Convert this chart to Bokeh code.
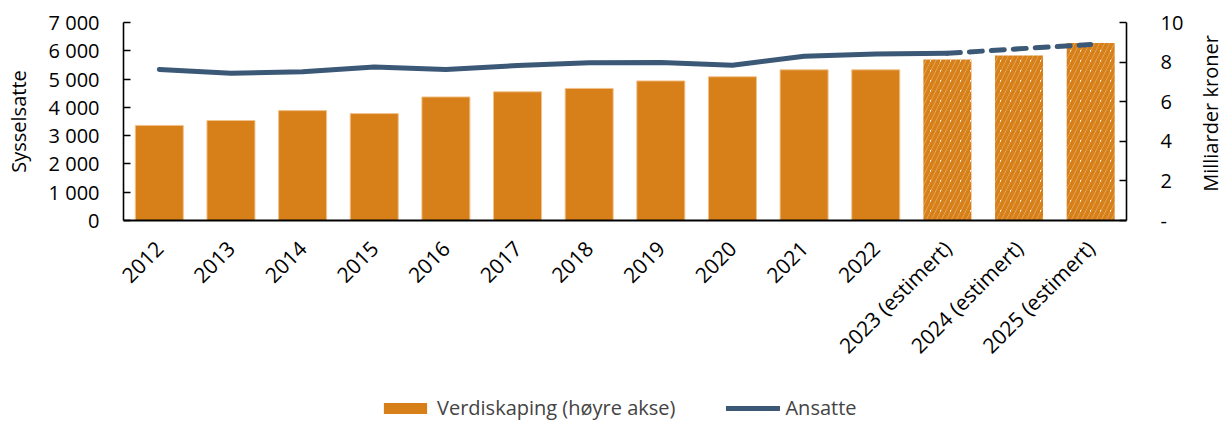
import math
from bokeh.plotting import figure
from bokeh.layouts import column, row
from bokeh.models import (FactorRange, Range1d, LinearAxis, FixedTicker, Legend, LegendItem, Label)
from bokeh.embed import file_html
from bokeh.resources import INLINE

years = ["2012", "2013", "2014", "2015", "2016", "2017", "2018", "2019", "2020",
         "2021", "2022", "2023 (estimert)", "2024 (estimert)", "2025 (estimert)"]
verdiskaping = [4.80, 5.05, 5.55, 5.40, 6.24, 6.50, 6.67, 7.05, 7.26, 7.61, 7.61, 8.13, 8.33, 8.97]
ansatte = [5340, 5210, 5260, 5430, 5340, 5480, 5575, 5590, 5490, 5810, 5890, 5910, 6070, 6220]
estimert = [False] * 11 + [True] * 3

left_ticks = [0, 1000, 2000, 3000, 4000, 5000, 6000, 7000]
right_ticks = [0, 2, 4, 6, 8, 10]

ORANGE = "#D77F18"
NAVY = "#3B5876"
FONT = "Open Sans"
FS = "20px"

p = figure(width=1195, height=392, x_range=FactorRange(factors=years, range_padding=0),
           y_range=Range1d(0, 7000), output_backend="svg", toolbar_location=None,
           min_border_left=123, min_border_right=69, min_border_top=22, min_border_bottom=172)
p.extra_y_ranges = {"right": Range1d(0, 10)}
p.outline_line_color = None
p.xgrid.visible = False
p.ygrid.visible = False

act_x = [y for y, e in zip(years, estimert) if not e]
act_v = [v for v, e in zip(verdiskaping, estimert) if not e]
est_x = [y for y, e in zip(years, estimert) if e]
est_v = [v for v, e in zip(verdiskaping, estimert) if e]

p.vbar(x=act_x, top=act_v, width=0.67, y_range_name="right",
       fill_color=ORANGE, line_color="#F2C28C", line_width=1)
p.vbar(x=est_x, top=est_v, width=0.67, y_range_name="right",
       fill_color="white", line_color=None, hatch_pattern="/",
       hatch_color=ORANGE, hatch_scale=10, hatch_weight=4.2)

n_solid = 12
p.line(x=years[:n_solid], y=ansatte[:n_solid], line_color=NAVY, line_width=5,
       line_join="round", line_cap="round")
p.line(x=years[n_solid - 1:], y=ansatte[n_solid - 1:], line_color=NAVY, line_width=5,
       line_dash="13 9", line_cap="round")

ly = p.yaxis[0]
ly.ticker = FixedTicker(ticks=left_ticks)
ly.major_label_overrides = {t: f"{t:,}".replace(",", " ") for t in left_ticks}
ly.axis_label = "Sysselsatte"

ry = LinearAxis(y_range_name="right", ticker=FixedTicker(ticks=right_ticks))
ry.major_label_overrides = {0: "-"}
p.add_layout(ry, "right")

for ax, standoff in [(ly, 24), (ry, 34)]:
    ax.axis_line_color = "black"
    ax.axis_line_width = 1.6
    ax.major_tick_in = 7
    ax.major_tick_out = 0
    ax.major_tick_line_color = "black"
    ax.major_tick_line_width = 1.6
    ax.minor_tick_line_color = None
    ax.major_label_text_font = FONT
    ax.major_label_text_font_size = FS
    ax.major_label_text_color = "black"
    ax.major_label_standoff = standoff
    ax.axis_label_text_font = FONT
    ax.axis_label_text_font_size = FS
    ax.axis_label_text_font_style = "normal"
    ax.axis_label_text_color = "black"
    ax.axis_label_standoff = 14

xa = p.xaxis[0]
xa.axis_line_color = "black"
xa.axis_line_width = 2
xa.major_tick_line_color = None
xa.minor_tick_line_color = None
xa.major_label_orientation = math.pi / 4
xa.major_label_text_font = FONT
xa.major_label_text_font_size = "21px"
xa.major_label_text_color = "black"
xa.major_label_standoff = 18

# right-hand axis title, reading bottom to top (its frame lines up with the chart frame)
side = figure(width=29, height=392, output_backend="svg", toolbar_location=None,
              x_axis_type=None, y_axis_type=None, min_border=0,
              x_range=Range1d(0, 1), y_range=Range1d(0, 1))
side.outline_line_color = None
side.xgrid.visible = False
side.ygrid.visible = False
side.add_layout(Label(x=15, y=107, x_units="screen", y_units="screen",
                      text="Milliarder kroner", angle=math.pi / 2,
                      text_align="center", text_baseline="middle",
                      text_font=FONT, text_font_size=FS, text_color="black"))

# legend strip below the chart (proxy renderers draw nothing visible)
lg = figure(width=1224, height=29, output_backend="svg", toolbar_location=None,
            x_axis_type=None, y_axis_type=None, min_border=0,
            x_range=Range1d(0, 1), y_range=Range1d(0, 1))
lg.outline_line_color = None
lg.xgrid.visible = False
lg.ygrid.visible = False
r_bar = lg.vbar(x=[0], top=[0], width=0, fill_color=ORANGE, line_color=None)
r_line = lg.line(x=[0], y=[0], line_color=NAVY, line_width=5, line_cap="round")
legend = Legend(items=[LegendItem(label="Verdiskaping (høyre akse)", renderers=[r_bar]),
                       LegendItem(label="Ansatte", renderers=[r_line])],
                orientation="horizontal", location=(378, 0),
                glyph_width=54, glyph_height=14, label_standoff=5, spacing=51,
                label_text_font=FONT, label_text_font_size=FS, label_height=20,
                padding=0, margin=0, border_line_color=None, background_fill_alpha=0)
lg.add_layout(legend, "center")

layout = column(row(p, side, spacing=0), lg, spacing=0)
open("out.html", "w").write(file_html(layout, INLINE))
